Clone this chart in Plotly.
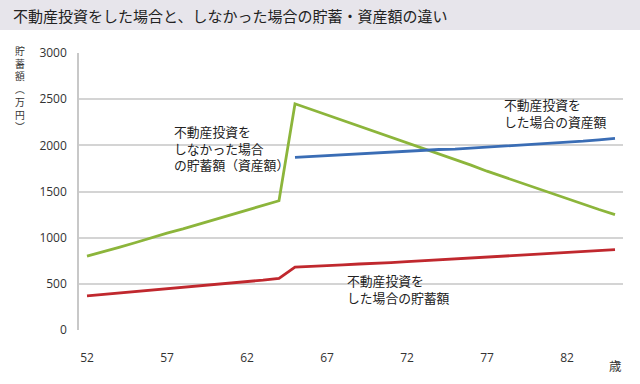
import plotly.graph_objects as go

ages = list(range(52, 86))
no_invest_savings = [800, 845, 895, 945, 1000, 1050, 1095, 1145, 1200, 1250, 1300, 1350, 1400,
                     2450, 2390, 2330, 2270, 2205, 2150, 2085, 2025, 1965, 1905, 1845, 1785,
                     1720, 1660, 1600, 1540, 1480, 1425, 1365, 1305, 1250]
invest_assets = [None] * 13 + [1870, 1880, 1890, 1900, 1905, 1915, 1925, 1935, 1945, 1955, 1960,
                               1970, 1980, 1990, 2000, 2010, 2020, 2030, 2045, 2060, 2075]
invest_savings = [370, 385, 400, 415, 430, 445, 460, 475, 495, 510, 525, 540, 560,
                  680, 690, 695, 705, 715, 720, 730, 740, 750, 760, 770, 780, 790, 800,
                  810, 820, 830, 840, 850, 860, 870]
x_ticks = [52, 57, 62, 67, 72, 77, 82]
y_ticks = [0, 500, 1000, 1500, 2000, 2500, 3000]

title = "不動産投資をした場合と、しなかった場合の貯蓄・資産額の違い"
label_no = "不動産投資を<br>しなかった場合<br>の貯蓄額（資産額）"
label_assets = "不動産投資を<br>した場合の資産額"
label_savings = "不動産投資を<br>した場合の貯蓄額"
y_title = "貯<br>蓄<br>額<br>︵<br>万<br>円<br>︶"
x_unit = "歳"

W, H = 640, 384
L, R, T, B = 79, 17, 53, 54
PW, PH = W - L - R, H - T - B

def px(x):
    return (x - L) / PW

def py(y):
    return (H - B - y) / PH

FONT = "Noto Sans CJK JP"
fig = go.Figure()
fig.add_trace(go.Scatter(x=ages, y=no_invest_savings, mode="lines",
                         line=dict(color="#8cb53b", width=2.8), hoverinfo="skip"))
fig.add_trace(go.Scatter(x=ages, y=invest_assets, mode="lines",
                         line=dict(color="#3a6db5", width=2.8), hoverinfo="skip"))
fig.add_trace(go.Scatter(x=ages, y=invest_savings, mode="lines",
                         line=dict(color="#c0282e", width=2.8), hoverinfo="skip"))

fig.add_shape(type="rect", xref="paper", yref="paper",
              x0=px(0), x1=px(W), y0=py(30), y1=py(0),
              fillcolor="#e7e5eb", line=dict(width=0), layer="below")
# white patches that interrupt gridlines behind the labels
for x0, x1, y0, y1 in [(170, 268, 138, 152), (495, 580, 92, 106), (340, 425, 277, 291)]:
    fig.add_shape(type="rect", xref="paper", yref="paper",
                  x0=px(x0), x1=px(x1), y0=py(y1), y1=py(y0),
                  fillcolor="white", line=dict(width=0), layer="between")

ann = []
ann.append(dict(text=title, x=px(11), y=py(15), xref="paper", yref="paper",
                xanchor="left", yanchor="middle", showarrow=False,
                font=dict(family=FONT, size=15, color="#222222")))
ann.append(dict(text=y_title, x=px(20), y=py(89), xref="paper", yref="paper",
                xanchor="center", yanchor="middle", showarrow=False,
                font=dict(family=FONT, size=9.8, color="#333333")))
ann.append(dict(text=x_unit, x=px(615), y=py(365), xref="paper", yref="paper",
                xanchor="center", yanchor="middle", showarrow=False,
                font=dict(family=FONT, size=12.5, color="#333333")))
for txt, xx, yy in [(label_no, 172, 148), (label_assets, 502, 113), (label_savings, 345, 289)]:
    ann.append(dict(text=txt, x=px(xx), y=py(yy), xref="paper", yref="paper",
                    xanchor="left", yanchor="middle", align="left", showarrow=False,
                    font=dict(family=FONT, size=12.8, color="#222222")))

fig.update_layout(
    width=W, height=H,
    margin=dict(l=L, r=R, t=T, b=B),
    paper_bgcolor="white", plot_bgcolor="white",
    showlegend=False,
    annotations=ann,
    xaxis=dict(range=[51.5, 85.5], tickvals=x_ticks, showgrid=False, zeroline=False,
               showline=False, ticks="", ticklabelstandoff=19,
               tickfont=dict(family="Open Sans", size=12, color="#333333")),
    yaxis=dict(range=[0, 3000], tickvals=y_ticks, showgrid=True, gridcolor="#d4d4d4",
               gridwidth=1.5, zeroline=False, showline=True, linecolor="#c8c8c8",
               linewidth=1.5, ticks="", ticklabelstandoff=8,
               tickfont=dict(family="Open Sans", size=12, color="#333333")),
)
fig.write_html("out.html", config={"displayModeBar": False},
               post_script="document.body.style.margin='0';")
